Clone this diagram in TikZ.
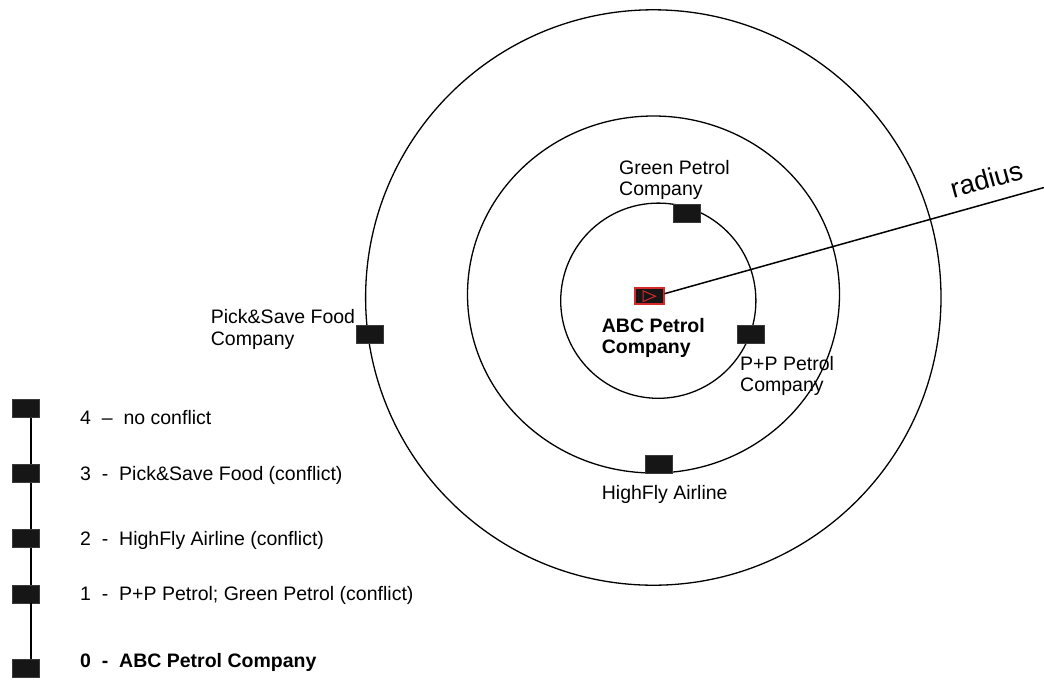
\documentclass[tikz,border=0pt]{standalone}
\usepackage{fontspec}
\setmainfont{Liberation Sans}
\definecolor{boxfill}{HTML}{161616}
\definecolor{boxedge}{HTML}{3A3A3A}
\definecolor{redc}{HTML}{D42A2A}
\tikzset{
  ring/.style={draw=black, line width=1.3pt},
  blk/.style={draw=boxedge, fill=boxfill, line width=0.6pt, minimum width=27pt, minimum height=18pt, inner sep=0pt},
  lbl/.style={inner sep=0pt, anchor=north west, align=left, font=\fontsize{19.5}{21.5}\selectfont},
  lblb/.style={lbl, font=\fontsize{19.5}{21.5}\selectfont\bfseries},
  conn/.style={line width=1.5pt, draw=black},
}
\begin{document}
\begin{tikzpicture}[x=1pt,y=-1pt]
\useasboundingbox (0,0) rectangle (1044,681);
% rings
\draw[ring] (653.3,297.5) circle[radius=287.7pt];
\draw[ring] (653.5,294.5) ellipse[x radius=186pt, y radius=178.5pt];
\draw[ring] (658.3,300.7) circle[radius=97.6pt];
% centre company
\node[draw=redc, fill=boxfill, line width=2pt, minimum width=29pt, minimum height=16pt, inner sep=0pt] (abc) at (649,295.7) {};
\draw[redc, line width=1pt] (643,290.8) -- (655.5,296.2) -- (643,301.6) -- cycle;
\coordinate (rend) at (1044,187.5);
\draw[conn] ([yshift=2pt]abc.east) -- (rend);
% companies on rings
\node[blk] (green) at (686.3,213.3) {};
\node[blk] (pp) at (751,334) {};
\node[blk] (pick) at (370,334) {};
\node[blk] (high) at (658.3,464.7) {};
% labels
\node[lbl] (tgreen) at (619,160) {Green Petrol\\Company};
\node[lblb] (tabc) at (601.7,317.7) {ABC Petrol\\Company};
\node[lbl] (tpp) at (740,356) {P+P Petrol\\Company};
\node[lbl] (tpick) at (210.7,309.3) {Pick\&Save Food\\Company};
\node[lbl] (thigh) at (601.7,485.3) {HighFly Airline};
\node[inner sep=0pt, rotate=15.5, font=\fontsize{27}{30}\selectfont] (trad) at (986.3,179) {radius};
% legend
\node[blk] (l4) at (26.2,408.5) {};
\node[blk] (l3) at (26.2,473.5) {};
\node[blk] (l2) at (26.2,538.5) {};
\node[blk] (l1) at (26.2,594) {};
\node[blk] (l0) at (26.2,668.3) {};
\draw[conn] ([xshift=5pt]l4.south) -- ([xshift=5pt]l3.north);
\draw[conn] ([xshift=5pt]l3.south) -- ([xshift=5pt]l2.north);
\draw[conn] ([xshift=5pt]l2.south) -- ([xshift=5pt]l1.north);
\draw[conn] ([xshift=5pt]l1.south) -- ([xshift=5pt]l0.north);
\node[lbl] (t4) at (80,410.3) {4\ \ –\ \ no conflict};
\node[lbl] (t3) at (80,466) {3\ \ -\ \ Pick\&Save Food (conflict)};
\node[lbl] (t2) at (80,531) {2\ \ -\ \ HighFly Airline (conflict)};
\node[lbl] (t1) at (80,586) {1\ \ -\ \ P+P Petrol; Green Petrol (conflict)};
\node[lblb] (t0) at (80,652.7) {0\ \ -\ \ ABC Petrol Company};
\end{tikzpicture}
\end{document}
